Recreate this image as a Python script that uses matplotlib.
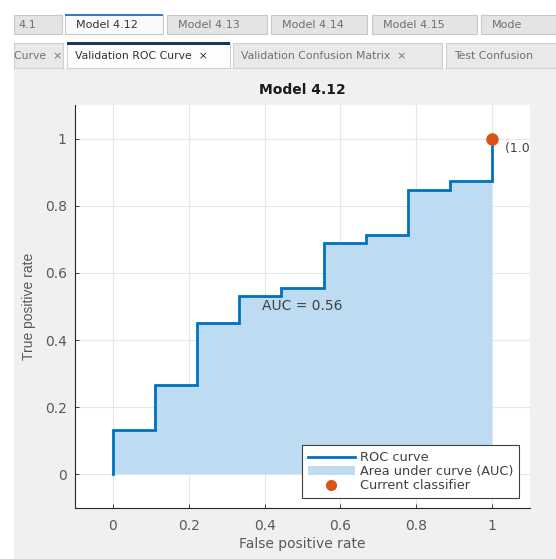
import numpy as np
import matplotlib.pyplot as plt
from matplotlib.patches import Rectangle
from matplotlib.lines import Line2D

plt.rcParams['font.family'] = ['DejaVu Sans']

# ROC curve vertices (false positive rate / true positive rate)
fpr = [0, 0, 0.111, 0.111, 0.222, 0.222, 0.333, 0.333, 0.444, 0.444,
       0.556, 0.556, 0.667, 0.667, 0.778, 0.778, 0.889, 0.889, 1.0, 1.0]
tpr = [0, 0.133, 0.133, 0.267, 0.267, 0.45, 0.45, 0.531, 0.531, 0.556,
       0.556, 0.69, 0.69, 0.714, 0.714, 0.846, 0.846, 0.873, 0.873, 1.0]
current_point = (1.0, 1.0)
auc_value = 0.56
model_name = 'Model 4.12'

model_tabs = ['4.1', 'Model 4.12', 'Model 4.13', 'Model 4.14', 'Model 4.15', 'Mode']
plot_tabs = ['Curve  \u00d7', 'Validation ROC Curve  \u00d7',
             'Validation Confusion Matrix  \u00d7', 'Test Confusion']

W, H = 556, 559
fig = plt.figure(figsize=(W / 100, H / 100), dpi=100)
fig.patch.set_facecolor('white')


def px_rect(x0, y0, x1, y1, **kw):
    # rectangle in pixel coords (origin top-left)
    r = Rectangle((x0 / W, 1 - y1 / H), (x1 - x0) / W, (y1 - y0) / H,
                  transform=fig.transFigure, zorder=-1, **kw)
    fig.add_artist(r)
    return r


def px_text(x, y, s, **kw):
    fig.text(x / W, 1 - y / H, s, **kw)


# panel background
px_rect(14, 68, W, H, facecolor='#f0f0f0', edgecolor='none')

# top row of model tabs
row1 = [(14, 62), (65, 163), (167, 267), (271, 367), (372, 477), (481, 560)]
for (x0, x1), lab in zip(row1, model_tabs):
    sel = lab == model_name
    px_rect(x0, 15, x1, 34, facecolor='#fafafa' if sel else '#e4e4e4',
            edgecolor='#c8c8c8', lw=0.8)
    if sel:
        px_rect(x0, 14, x1, 16, facecolor='#3b78c2', edgecolor='none')
    px_text(x0 + 11 if lab != '4.1' else x0 + 4, 25.5, lab, fontsize=8,
            color='#333333' if sel else '#707070', va='center')

# second row of plot tabs
row2 = [(14, 63), (67, 230), (233, 442), (446, 560)]
for (x0, x1), lab in zip(row2, plot_tabs):
    sel = lab.startswith('Validation ROC')
    px_rect(x0, 43, x1, 68, facecolor='#fdfdfd' if sel else '#e9e9e9',
            edgecolor='#d0d0d0', lw=0.8)
    if sel:
        px_rect(x0, 42, x1, 45, facecolor='#17375e', edgecolor='none')
    px_text(x0 + 8 if x0 > 14 else x0, 56, lab, fontsize=7.8,
            color='#333333' if sel else '#707070', va='center')

# axes
ax = fig.add_axes([75 / W, 1 - 508 / H, (530 - 75) / W, (508 - 105) / H])
ax.set_facecolor('white')

roc_color = '#0072BD'
fill_color = '#BEDCF1'
pt_color = '#D95319'

ax.fill_between(fpr, tpr, 0, color=fill_color, lw=0, zorder=1)
ax.plot(fpr, tpr, color=roc_color, lw=2, zorder=3, solid_joinstyle='miter')
ax.plot(*current_point, 'o', color=pt_color, ms=8, zorder=4)
ax.text(current_point[0] + 0.035, current_point[1] - 0.03,
        f'({current_point[0]:.2f}, {current_point[1]:.2f})',
        fontsize=9, color='#404040', va='center', clip_on=True)
ax.text(0.5, 0.5, f'AUC = {auc_value:.2f}', fontsize=10, color='#404040',
        ha='center', va='center', zorder=5)

ax.set_xlim(-0.1, 1.1)
ax.set_ylim(-0.1, 1.1)
ticks = np.arange(0, 1.01, 0.2)
ax.set_xticks(ticks)
ax.set_yticks(ticks)
ax.set_xticklabels(['0', '0.2', '0.4', '0.6', '0.8', '1'])
ax.set_yticklabels(['0', '0.2', '0.4', '0.6', '0.8', '1'])
ax.grid(True, color='#e6e6e6', lw=0.8, zorder=0)
ax.set_axisbelow(True)
for s in ['top', 'right']:
    ax.spines[s].set_visible(False)
for s in ['left', 'bottom']:
    ax.spines[s].set_color('#262626')
    ax.spines[s].set_linewidth(0.8)
ax.tick_params(colors='#262626', labelcolor='#595959', labelsize=10,
               length=3, width=0.6, direction='in')
ax.tick_params(axis='x', pad=8)
ax.tick_params(axis='y', pad=6)

ax.set_title(model_name, fontsize=10, fontweight='bold', color='#1a1a1a', pad=8)
ax.set_xlabel('False positive rate', fontsize=10, color='#595959', labelpad=3)
ax.set_ylabel('True positive rate', fontsize=10, color='#595959', labelpad=6,
              family='Liberation Sans')

handles = [
    Line2D([], [], color=roc_color, lw=2),
    Rectangle((0, 0), 1, 1, facecolor=fill_color, edgecolor='none'),
    Line2D([], [], marker='o', color=pt_color, ls='none', ms=7),
]
leg = ax.legend(handles, ['ROC curve', 'Area under curve (AUC)', 'Current classifier'],
                loc='lower right', bbox_to_anchor=(0.976, 0.025), fontsize=9.3,
                frameon=True, fancybox=False, edgecolor='#404040', framealpha=1,
                borderpad=0.45, labelspacing=0.08, handlelength=3.6,
                handletextpad=0.4, borderaxespad=0)
leg.get_frame().set_linewidth(0.8)
for t in leg.get_texts():
    t.set_color('#404040')

fig.savefig('out.png', dpi=100)
